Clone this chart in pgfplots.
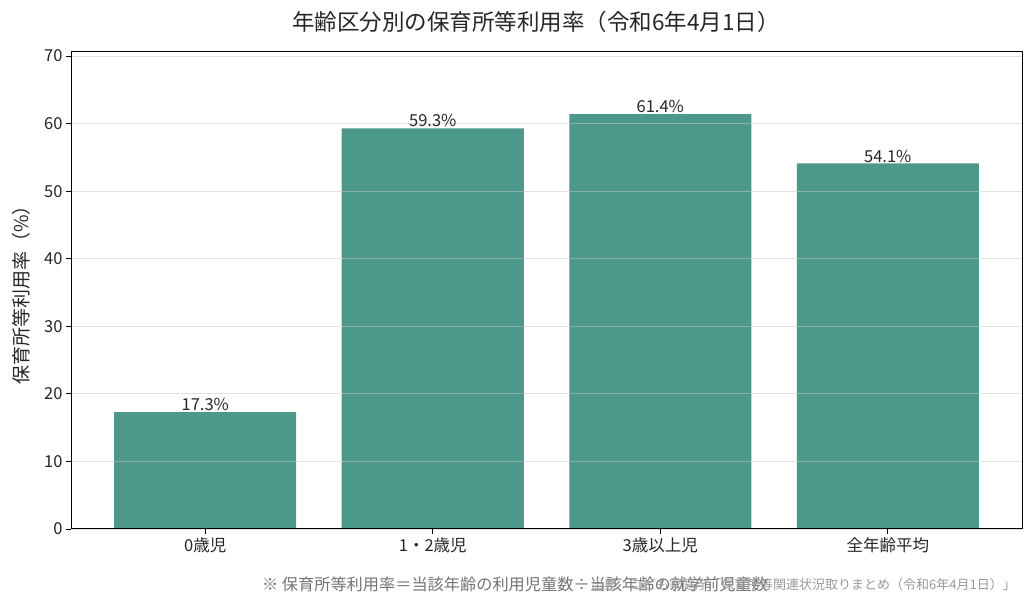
\documentclass[border=0pt]{standalone}
\usepackage{fontspec}
\setmainfont{Noto Sans CJK JP}
\usepackage{pgfplots}
\pgfplotsset{compat=1.18}
\definecolor{barteal}{HTML}{4C998B}
\definecolor{txt}{HTML}{262626}
\begin{document}
\begin{tikzpicture}[x=1bp,y=1bp]
\path[use as bounding box] (0,0) rectangle (1036,606);
\begin{axis}[
  at={(71bp,77bp)}, anchor=south west,
  width=951bp, height=477bp, scale only axis,
  xmin=-0.59, xmax=3.59, ymin=0, ymax=70.6,
  xtick={0,1,2,3},
  xticklabels={0歳児,1・2歳児,3歳以上児,全年齢平均},
  ytick={0,10,...,70},
  /pgf/number format/assume math mode=true,
  ticklabel style={font=\fontsize{16.5bp}{18bp}\selectfont, text=txt},
  tick align=outside, tick pos=left,
  major tick length=5bp,
  tick style={black, line width=0.8bp},
  axis line style={black, line width=1bp},
  ymajorgrids, major grid style={gray!45, opacity=0.5, line width=0.8bp},
  axis on top,
  ylabel={保育所等利用率（\%）},
  ylabel style={font=\fontsize{19bp}{21bp}\selectfont, text=txt},
  ylabel shift=7bp,
  ybar, bar width=0.8, bar shift=0pt,
  nodes near coords={\pgfmathprintnumber[fixed,precision=1,fixed zerofill]{\pgfplotspointmeta}\%},
  nodes near coords style={font=\fontsize{16.5bp}{18bp}\selectfont, text=txt, inner sep=1bp, /pgf/number format/assume math mode=true},
]
\addplot[fill=barteal, draw=none] coordinates {(0,17.3) (1,59.3) (2,61.4) (3,54.1)};
\end{axis}
\node[font=\fontsize{22.5bp}{24bp}\selectfont, text=txt] at (536,584) {年齢区分別の保育所等利用率（令和6年4月1日）};
\node[font=\fontsize{16.2bp}{18bp}\selectfont, text=black!55] at (515,22) {※ 保育所等利用率＝当該年齢の利用児童数÷当該年齢の就学前児童数};
\node[font=\fontsize{13bp}{15bp}\selectfont, text=black!40, anchor=east, inner sep=0pt] at (1016,21) {出典：こども家庭庁「保育所等関連状況取りまとめ（令和6年4月1日）」};
\end{tikzpicture}
\end{document}
